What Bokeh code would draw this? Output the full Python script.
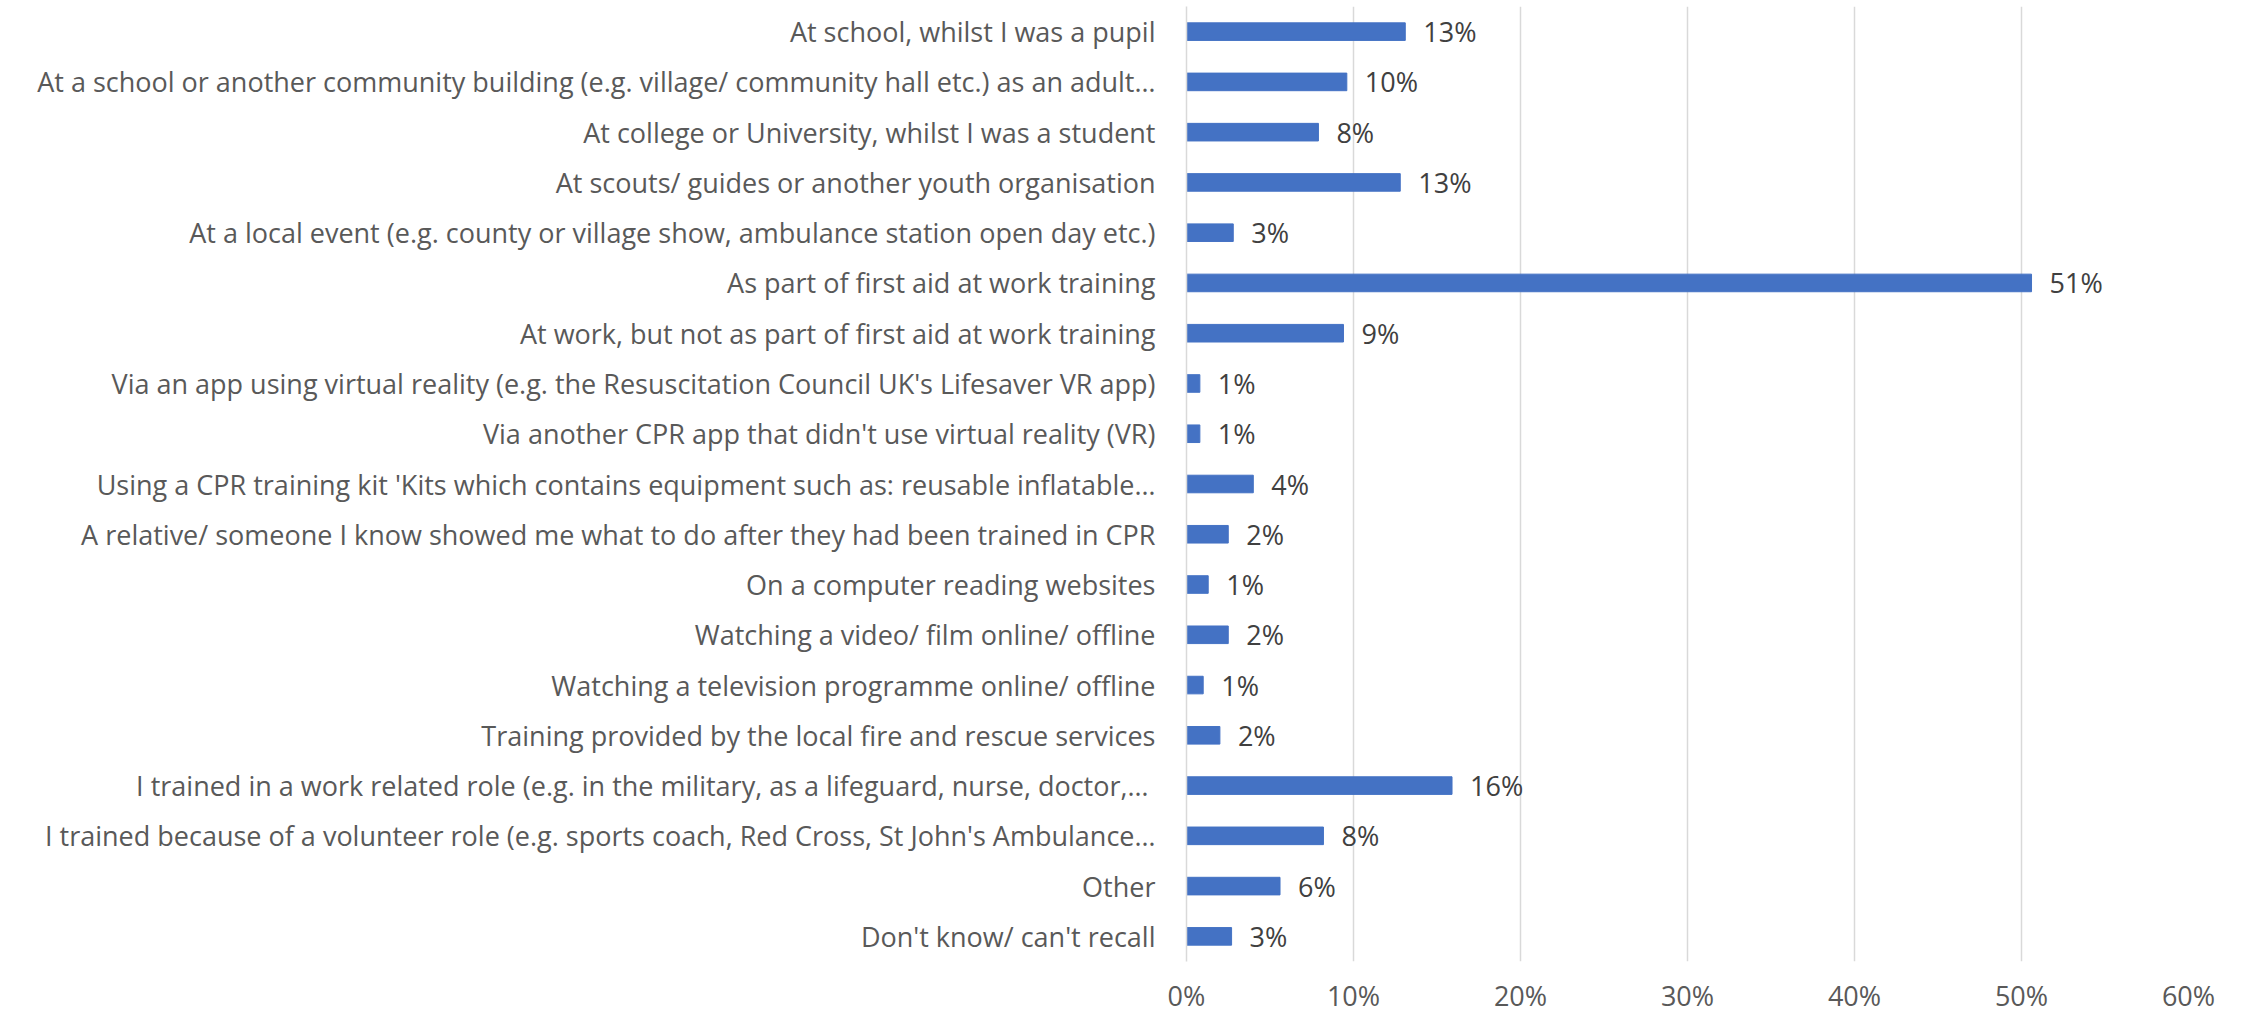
from bokeh.plotting import figure
from bokeh.models import FactorRange, Range1d, ColumnDataSource, FixedTicker, CustomJSTickFormatter
from bokeh.core.properties import value
from bokeh.embed import file_html
from bokeh.resources import INLINE

categories = [
    "At school, whilst I was a pupil",
    "At a school or another community building (e.g. village/ community hall etc.) as an adult\u2026",
    "At college or University, whilst I was a student",
    "At scouts/ guides or another youth organisation",
    "At a local event (e.g. county or village show, ambulance station open day etc.)",
    "As part of first aid at work training",
    "At work, but not as part of first aid at work training",
    "Via an app using virtual reality (e.g. the Resuscitation Council UK's Lifesaver VR app)",
    "Via another CPR app that didn't use virtual reality (VR)",
    "Using a CPR training kit 'Kits which contains equipment such as: reusable inflatable\u2026",
    "A relative/ someone I know showed me what to do after they had been trained in CPR",
    "On a computer reading websites",
    "Watching a video/ film online/ offline",
    "Watching a television programme online/ offline",
    "Training provided by the local fire and rescue services",
    "I trained in a work related role  (e.g. in the military, as a lifeguard, nurse, doctor,\u2026",
    "I trained because of a volunteer role (e.g. sports coach, Red Cross, St John's Ambulance\u2026",
    "Other",
    "Don't know/ can't recall",
]
values = [13.1, 9.6, 7.9, 12.8, 2.8, 50.6, 9.4, 0.8, 0.8, 4.0, 2.5, 1.3, 2.5, 1.0, 2.0, 15.9, 8.2, 5.6, 2.7]
labels = [f"{v:.0f}%" for v in values]
x_ticks = [0, 10, 20, 30, 40, 50, 60]

FONT = "Open Sans"
FS = "27px"

src = ColumnDataSource(dict(cat=categories, val=values, lab=labels))

p = figure(
    width=2245, height=1016,
    y_range=FactorRange(factors=list(reversed(categories))),
    x_range=Range1d(0, 60),
    output_backend="svg", toolbar_location=None,
    min_border_left=1186, min_border_right=57, min_border_top=6, min_border_bottom=0,
)
p.outline_line_color = None
p.background_fill_color = "white"

p.hbar(y="cat", right="val", left=0, height=0.35, source=src,
       fill_color="#4472C4", line_color="#4472C4")

p.text(x="val", y="cat", text="lab", source=src, x_offset=18,
       text_align="left", text_baseline="middle",
       text_font=value(FONT), text_font_size=FS, text_color="#404040")

# x axis
p.xaxis.ticker = FixedTicker(ticks=x_ticks)
p.xaxis.formatter = CustomJSTickFormatter(code="return tick + '%';")
p.xaxis.axis_line_color = None
p.xaxis.major_tick_line_color = None
p.xaxis.minor_tick_line_color = None
p.xaxis.major_label_standoff = 9
p.xaxis.major_label_text_line_height = 1.0
p.xaxis.major_label_text_font = FONT
p.xaxis.major_label_text_font_size = FS
p.xaxis.major_label_text_color = "#595959"

# y axis
p.yaxis.axis_line_color = "#D9D9D9"
p.yaxis.axis_line_width = 1.5
p.yaxis.major_tick_line_color = None
p.yaxis.minor_tick_line_color = None
p.yaxis.major_label_standoff = 25
p.yaxis.major_label_text_font = FONT
p.yaxis.major_label_text_font_size = FS
p.yaxis.major_label_text_color = "#595959"

p.xgrid.grid_line_color = "#D9D9D9"
p.xgrid.grid_line_width = 1.5
p.ygrid.grid_line_color = None

open("out.html", "w").write(file_html(p, INLINE))
